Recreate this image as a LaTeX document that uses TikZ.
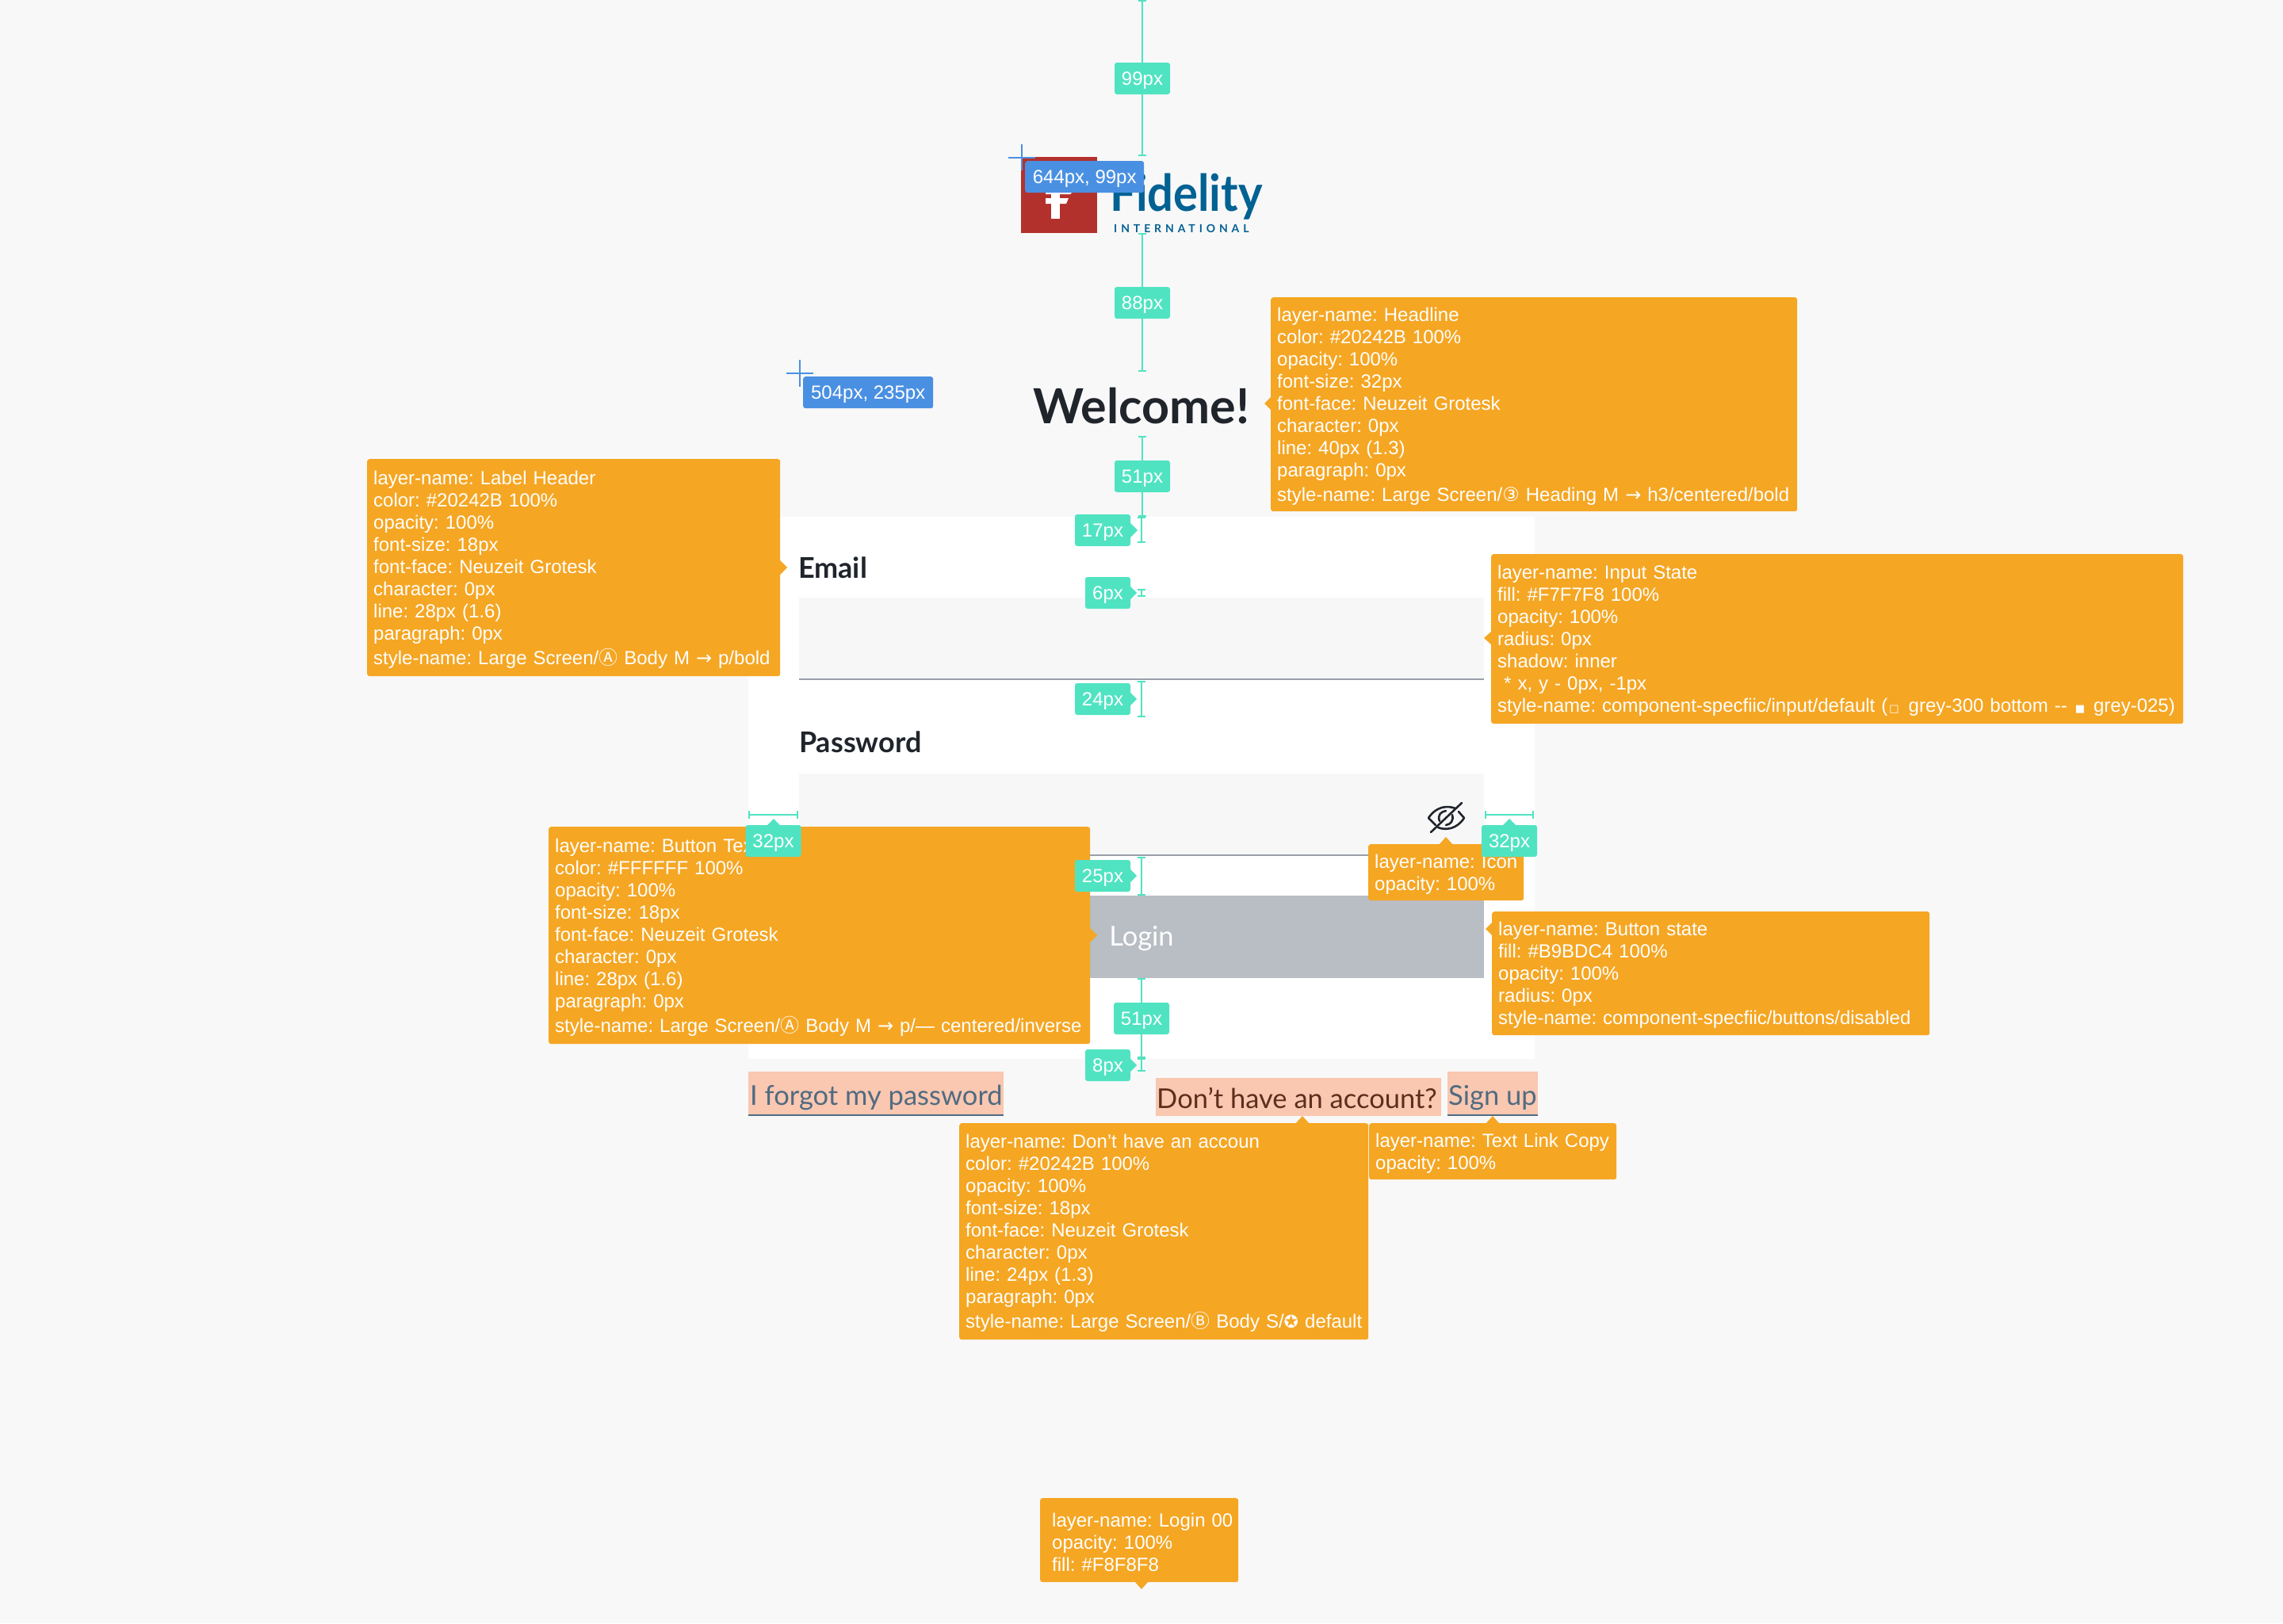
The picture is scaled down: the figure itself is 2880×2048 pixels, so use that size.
\documentclass[tikz,border=0pt]{standalone}
\usepackage{fontspec}
\setmainfont{Liberation Sans}
\newfontfamily\uifont{Lato}
\newfontfamily\logofont[LetterSpace=35]{Lato}
\newfontfamily\symfont{DejaVu Sans}
\newfontfamily\circfont{Noto Sans CJK SC}
\usetikzlibrary{arrows.meta}
\frenchspacing

\definecolor{pagebg}{HTML}{F8F8F8}
\definecolor{tooltipcol}{HTML}{F5A623}
\definecolor{dimcol}{HTML}{50E3C2}
\definecolor{bluecol}{HTML}{4A90E2}
\definecolor{inputcol}{HTML}{F7F7F8}
\definecolor{linecol}{HTML}{9A9EA9}
\definecolor{buttoncol}{HTML}{B9BDC4}
\definecolor{inkcol}{HTML}{20242B}
\definecolor{peachcol}{HTML}{FAC7B0}
\definecolor{linkcol}{HTML}{4F6B82}
\definecolor{copycol}{HTML}{5E2E1D}
\definecolor{redcol}{HTML}{B3312C}
\definecolor{logocol}{HTML}{006193}

\newcommand{\arrowsym}{{\symfont\char"2192}}
\newcommand{\circA}{{\circfont\char"24B6}}
\newcommand{\circB}{{\circfont\char"24B7}}
\newcommand{\circThree}{{\symfont\char"2462}}
\newcommand{\hollowbox}{{\symfont\fontsize{13}{13}\selectfont\hspace*{2pt}\char"25A1\hspace*{4pt}}}
\newcommand{\solidbox}{{\symfont\fontsize{13}{13}\selectfont\hspace*{2pt}\char"25A0\hspace*{3pt}}}
\newcommand{\starsym}{{\symfont\fontsize{22}{22}\selectfont\char"272A}}

\tikzset{
    tooltip/.style 2 args={fill=tooltipcol, rounded corners=3pt, text=white, anchor=north west,
        align=left, inner xsep=8pt, inner ysep=0pt, minimum height=#2pt, text width=#1pt-16pt,
        text height=22pt, font=\fontsize{24}{28}\selectfont,
        execute at begin node={\rightskip=-40pt plus 1fil\relax}},
    tiptri/.style={fill=tooltipcol},
    dimline/.style={draw=dimcol, line width=2pt, {Bar[width=10pt,line width=2pt]}-{Bar[width=10pt,line width=2pt]}},
    dimlabel/.style={fill=dimcol, rounded corners=3pt, text=white, inner sep=0pt, text height=22pt, text depth=5pt,
        minimum width=#1pt, minimum height=40pt, font=\fontsize{24}{28}\selectfont},
    dimlabel/.default=70,
    dimtri/.style={fill=dimcol},
    bluelabel/.style={fill=bluecol, rounded corners=3pt, text=white, inner sep=0pt, text height=22pt, text depth=5pt,
        anchor=north west, minimum height=40pt, font=\fontsize{24}{28}\selectfont},
    crossline/.style={draw=bluecol, line width=2pt},
    headtext/.style={text=inkcol, inner sep=0pt, anchor=base west, font=\uifont\bfseries\fontsize{36}{36}\selectfont},
    linktext/.style={inner sep=0pt, anchor=base west, font=\uifont\fontsize{34.5}{36}\selectfont},
    peachbox/.style={fill=peachcol},
    inputbox/.style={fill=inputcol},
    inputline/.style={draw=linecol, line width=2pt},
    linkline/.style={draw=linkcol, line width=2pt}
}

\begin{document}
\begin{tikzpicture}[x=1pt, y=-1pt]

    \useasboundingbox (0, 0) rectangle (2880, 2048);

    % Page and card
    \fill[pagebg] (0, 0) rectangle (2880, 2048);
    \fill[white] (944, 652) rectangle (1936, 1336);

    % Logo
    \fill[redcol] (1288, 198) rectangle (1384, 294);
    \fill[white] (1326, 235) rectangle (1337, 276);
    \fill[white] (1319, 243) -- (1352, 243) -- (1350, 245) -- (1319, 245) -- cycle;
    \fill[white] (1319, 250) -- (1348, 250) -- (1345, 257) -- (1319, 257) -- cycle;
    \node[inner sep=0pt, anchor=base west, text=logocol, font=\uifont\bfseries\fontsize{64}{64}\selectfont] (logoname) at (1400, 266) {\scalebox{0.905}[1]{Fidelity}};
    \node[inner sep=0pt, anchor=base west, text=logocol, font=\logofont\bfseries\fontsize{14}{14}\selectfont] (logosub) at (1405, 293) {INTERNATIONAL};

    % Headline
    \node[inner sep=0pt, anchor=base west, text=inkcol, font=\uifont\bfseries\fontsize{61}{61}\selectfont] (welcome) at (1303, 534) {Welcome!};

    % Email input
    \node[headtext] (email) at (1007, 729) {Email};
    \fill[inputbox] (1008, 754) rectangle (1872, 856);
    \coordinate (emailL) at (1008, 857);
    \coordinate (emailR) at (1872, 857);
    \draw[inputline] (emailL) -- (emailR);

    % Password input
    \node[headtext] (password) at (1008, 949) {Password};
    \fill[inputbox] (1008, 976) rectangle (1872, 1078);
    \coordinate (passL) at (1008, 1079);
    \coordinate (passR) at (1872, 1079);
    \draw[inputline] (passL) -- (passR);

    % Eye icon
    \begin{scope}[draw=inkcol, line width=2.6pt, line cap=round]
        \draw (1802, 1032) .. controls (1812, 1017) and (1826, 1016) .. (1836, 1020);
        \draw (1847, 1032) .. controls (1838, 1046) and (1824, 1048) .. (1814, 1044);
        \draw (1802, 1032) -- (1811, 1041);
        \draw (1847, 1032) -- (1840, 1024);
        \draw (1816, 1036) .. controls (1813, 1028) and (1818, 1024) .. (1824, 1023);
        \draw (1832, 1028) .. controls (1834, 1036) and (1830, 1040) .. (1824, 1041);
        \draw (1844, 1013) -- (1805, 1050);
    \end{scope}

    % Login button
    \fill[buttoncol] (1008, 1130) rectangle (1872, 1234);
    \node[inner sep=0pt, text=white, anchor=base, font=\uifont\fontsize{34.5}{36}\selectfont] (login) at (1440, 1193) {Login};

    % Text links
    \fill[peachbox] (944, 1352) rectangle (1266, 1408);
    \node[linktext, text=linkcol] (forgot) at (946, 1394) {I forgot my password};
    \coordinate (forgotL) at (944, 1407);
    \coordinate (forgotR) at (1266, 1407);
    \draw[linkline] (forgotL) -- (forgotR);
    \fill[peachbox] (1458, 1360) rectangle (1818, 1408);
    \node[linktext, text=copycol] (account) at (1459, 1398) {Don’t have an account?};
    \fill[peachbox] (1826, 1352) rectangle (1940, 1408);
    \node[linktext, text=linkcol] (signup) at (1827, 1394) {Sign up};
    \coordinate (signupL) at (1826, 1407);
    \coordinate (signupR) at (1940, 1407);
    \draw[linkline] (signupL) -- (signupR);

    % Vertical measures
    \coordinate (m0a) at (1441, 0);
    \coordinate (m0b) at (1441, 197);
    \coordinate (m1a) at (1441, 294);
    \coordinate (m1b) at (1441, 469);
    \coordinate (m2a) at (1441, 550);
    \coordinate (m2b) at (1441, 652);
    \coordinate (m3a) at (1440, 652);
    \coordinate (m3b) at (1440, 685);
    \coordinate (m4a) at (1440, 743);
    \coordinate (m4b) at (1440, 753);
    \coordinate (m5a) at (1440, 859);
    \coordinate (m5b) at (1440, 905);
    \coordinate (m6a) at (1440, 1081);
    \coordinate (m6b) at (1440, 1130);
    \coordinate (m7a) at (1440, 1234);
    \coordinate (m7b) at (1440, 1335);
    \coordinate (m8a) at (1440, 1335);
    \coordinate (m8b) at (1440, 1352);
    \foreach \i in {0,...,8} {
        \draw[dimline] (m\i a) -- (m\i b);
    }

    % Horizontal measures
    \coordinate (padLa) at (944, 1028);
    \coordinate (padLb) at (1007, 1028);
    \coordinate (padRa) at (1873, 1028);
    \coordinate (padRb) at (1935, 1028);
    \draw[dimline] (padLa) -- (padLb);
    \draw[dimline] (padRa) -- (padRb);

    % Tooltips
    \node[tooltip={664}{270}] (headline) at (1603, 375) {layer-name: Headline\\color: \#20242B 100\%\\opacity: 100\%\\font-size: 32px\\font-face: Neuzeit Grotesk\\character: 0px\\line: 40px (1.3)\\paragraph: 0px\\[3pt]style-name: Large Screen/\circThree{} Heading M \arrowsym{} h3/centered/bold};
    \fill[tiptri] (1595, 509) -- (1604, 500) -- (1604, 518) -- cycle;

    \node[tooltip={521}{274}] (labelhead) at (463, 579) {layer-name: Label Header\\color: \#20242B 100\%\\opacity: 100\%\\font-size: 18px\\font-face: Neuzeit Grotesk\\character: 0px\\line: 28px (1.6)\\paragraph: 0px\\[3pt]style-name: Large Screen/\circA{} Body M \arrowsym{} p/bold};
    \fill[tiptri] (993, 716) -- (984, 707) -- (984, 725) -- cycle;

    \node[tooltip={873}{214}] (inputstate) at (1881, 699) {layer-name: Input State\\fill: \#F7F7F8 100\%\\opacity: 100\%\\radius: 0px\\shadow: inner\\\ * x, y - 0px, -1px\\style-name: component-specfiic/input/default (\hollowbox{} grey-300 bottom -{}- \solidbox{} grey-025)};
    \fill[tiptri] (1872, 805) -- (1882, 796) -- (1882, 814) -- cycle;

    \node[tooltip={683}{274}] (buttontext) at (692, 1043) {layer-name: Button Tex\\color: \#FFFFFF 100\%\\opacity: 100\%\\font-size: 18px\\font-face: Neuzeit Grotesk\\character: 0px\\line: 28px (1.6)\\paragraph: 0px\\[3pt]style-name: Large Screen/\circA{} Body M \arrowsym{} p/--- centered/inverse};
    \fill[tiptri] (1384, 1180) -- (1375, 1171) -- (1375, 1189) -- cycle;

    \node[tooltip={196}{71}] (icontip) at (1726, 1065) {layer-name: Icon\\opacity: 100\%};
    \fill[tiptri] (1824, 1056) -- (1815, 1066) -- (1833, 1066) -- cycle;

    \node[tooltip={552}{156}] (buttonstate) at (1882, 1150) {layer-name: Button state\\fill: \#B9BDC4 100\%\\opacity: 100\%\\radius: 0px\\style-name: component-specfiic/buttons/disabled};
    \fill[tiptri] (1874, 1172) -- (1883, 1163) -- (1883, 1181) -- cycle;

    \node[tooltip={516}{273}] (accounttip) at (1210, 1417) {layer-name: Don’t have an accoun\\color: \#20242B 100\%\\opacity: 100\%\\font-size: 18px\\font-face: Neuzeit Grotesk\\character: 0px\\line: 24px (1.3)\\paragraph: 0px\\[3pt]style-name: Large Screen/\circB{} Body S/\starsym{} default};
    \fill[tiptri] (1643, 1408) -- (1634, 1418) -- (1652, 1418) -- cycle;

    \node[tooltip={312}{71}] (linktip) at (1727, 1417) {layer-name: Text Link Copy\\opacity: 100\%};
    \fill[tiptri] (1883, 1408) -- (1874, 1418) -- (1892, 1418) -- cycle;

    \node[tooltip={250}{106}, inner xsep=15pt, text width=220pt] (logintip) at (1312, 1890) {layer-name: Login 00\\opacity: 100\%\\fill: \#F8F8F8};
    \fill[tiptri] (1440, 2005) -- (1431, 1995) -- (1449, 1995) -- cycle;

    % Measure labels
    \node[dimlabel] (d99) at (1441, 99) {99px};
    \node[dimlabel] (d88) at (1441, 382) {88px};
    \node[dimlabel] (d51a) at (1441, 601) {51px};
    \node[dimlabel] (d17) at (1391, 669) {17px};
    \fill[dimtri] (1435, 669) -- (1426, 660) -- (1426, 678) -- cycle;
    \node[dimlabel=57] (d6) at (1397.5, 748) {6px};
    \fill[dimtri] (1434, 748) -- (1425, 739) -- (1425, 757) -- cycle;
    \node[dimlabel] (d24) at (1391, 882) {24px};
    \fill[dimtri] (1434, 882) -- (1425, 873) -- (1425, 891) -- cycle;
    \node[dimlabel] (d32a) at (975.5, 1061) {32px};
    \fill[dimtri] (976, 1033) -- (967, 1042) -- (985, 1042) -- cycle;
    \node[dimlabel] (d32b) at (1904, 1061) {32px};
    \fill[dimtri] (1904, 1033) -- (1895, 1042) -- (1913, 1042) -- cycle;
    \node[dimlabel] (d25) at (1391, 1105) {25px};
    \fill[dimtri] (1434, 1105) -- (1425, 1096) -- (1425, 1114) -- cycle;
    \node[dimlabel] (d51b) at (1440, 1285) {51px};
    \node[dimlabel=57] (d8) at (1397.5, 1344) {8px};
    \fill[dimtri] (1434, 1344) -- (1425, 1335) -- (1425, 1353) -- cycle;

    % Position labels
    \coordinate (c1w) at (1272, 199);
    \coordinate (c1e) at (1306, 199);
    \coordinate (c1n) at (1289, 182);
    \coordinate (c1s) at (1289, 215);
    \draw[crossline] (c1w) -- (c1e);
    \draw[crossline] (c1n) -- (c1s);
    \node[bluelabel, minimum width=150pt] (pos1) at (1293, 203) {644px, 99px};

    \coordinate (c2w) at (992, 471);
    \coordinate (c2e) at (1026, 471);
    \coordinate (c2n) at (1009, 454);
    \coordinate (c2s) at (1009, 488);
    \draw[crossline] (c2w) -- (c2e);
    \draw[crossline] (c2n) -- (c2s);
    \node[bluelabel, minimum width=164pt] (pos2) at (1013, 475) {504px, 235px};

\end{tikzpicture}
\end{document}
